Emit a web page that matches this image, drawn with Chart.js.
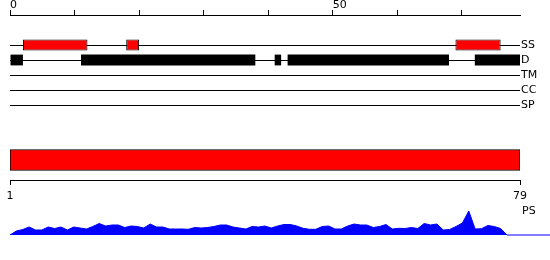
<!DOCTYPE html>
<html><head><meta charset="utf-8">
<script src="https://cdn.jsdelivr.net/npm/chart.js@4"></script>
<style>
html,body{margin:0;padding:0;background:#fff;}
body{width:550px;height:260px;position:relative;overflow:hidden;font-family:"DejaVu Sans";}
.box{position:absolute;left:0;width:550px;}
#ps{position:absolute;left:522px;top:204px;font:11px "DejaVu Sans";color:#000;line-height:normal;}
</style></head><body>
<div class="box" style="top:0;height:115px"><canvas id="c1"></canvas></div>
<div class="box" style="top:140px;height:65px"><canvas id="c2"></canvas></div>
<div class="box" style="top:200px;height:40px"><canvas id="c3"></canvas></div>
<div id="ps">PS</div>
<script>
const tracks = ['SS','D','TM','CC','SP'];
const ssSegments = [[2,12],[18,20],[69,76]];
const dSegments = [[0,2],[11,38],[41,42],[43,68],[72,79]];
const topTicks = [0,10,20,30,40,50,60,70];
const topLabelled = [0,50];
const seqStart = 1, seqEnd = 79;
const psScores = [0,4,5.5,8,5,5,8,6.5,8,5,8,7,6,8.5,11.5,9,10,10,7.5,9,8.5,7,11,8,8,6,6,6,5.7,7.5,7,7.5,8.5,10,10,8,7,6,8.5,8,9,7,9,10.5,10.5,9,6.7,5.7,5.7,8.5,9,6,6,9,11,10,10,7.5,8.5,10.5,6,6.7,6.5,7.5,6.5,11.5,10,11,5,5.5,8.5,12,24,6,6.3,9.5,8.5,6.5,0];

const FONT = {family:'DejaVu Sans', size:11};
const TXT = '#000';

const trackLines = {
  id:'trackLines',
  beforeDatasetsDraw(chart){
    const {ctx, scales:{x,y}} = chart;
    ctx.save(); ctx.strokeStyle='#000'; ctx.lineWidth=1;
    tracks.forEach((t,i)=>{
      const py = Math.round(y.getPixelForValue(i+2))+0.5;
      ctx.beginPath(); ctx.moveTo(x.getPixelForValue(x.min), py); ctx.lineTo(x.getPixelForValue(x.max), py); ctx.stroke();
    });
    ctx.restore();
  }
};
const row = name => tracks.indexOf(name)+2;

new Chart(document.getElementById('c1'), {
  type:'bar',
  data:{datasets:[
    {label:'SS', data:ssSegments.map(s=>({x:s, y:row('SS')})), backgroundColor:'#ff0000', borderColor:'#000', borderWidth:1, borderSkipped:false, maxBarThickness:11},
    {label:'D', data:dSegments.map(s=>({x:s, y:row('D')})), backgroundColor:'#000', borderWidth:0, borderSkipped:false, maxBarThickness:11}
  ]},
  options:{
    indexAxis:'y', grouped:false, responsive:true, maintainAspectRatio:false, animation:false,
    layout:{padding:{left:10,right:0,top:0,bottom:10}},
    plugins:{legend:{display:false}, tooltip:{enabled:false}},
    scales:{
      x:{type:'linear', position:'top', min:0, max:79,
        afterBuildTicks:s=>{s.ticks = topTicks.map(v=>({value:v}));},
        afterFit:s=>{s.height=15;},
        ticks:{align:'start', padding:-2, color:TXT, font:FONT, autoSkip:false, maxRotation:0,
          callback:v=>topLabelled.includes(v)?String(v):''},
        grid:{drawOnChartArea:false, tickLength:5, color:'#000', lineWidth:1},
        border:{color:'#000', width:1}},
      y:{type:'linear', position:'right', reverse:true, min:0, max:6, offset:false,
        afterBuildTicks:s=>{s.ticks = tracks.map((t,i)=>({value:i+2}));},
        afterFit:s=>{s.width=30;},
        ticks:{padding:1, color:TXT, font:FONT, autoSkip:false, callback:v=>tracks[v-2]},
        grid:{display:false, drawTicks:false, offset:false}, border:{display:false}}
    }
  },
  plugins:[trackLines]
});

new Chart(document.getElementById('c2'), {
  type:'bar',
  data:{labels:['sequence'], datasets:[{data:[[seqStart, seqEnd]], backgroundColor:'#ff0000', borderColor:'#000', borderWidth:1, borderSkipped:false, barThickness:21}]},
  options:{
    indexAxis:'y', responsive:true, maintainAspectRatio:false, animation:false,
    layout:{padding:{left:10,right:30,top:0,bottom:0}},
    plugins:{legend:{display:false}, tooltip:{enabled:false}},
    scales:{
      x:{type:'linear', min:seqStart, max:seqEnd,
        afterBuildTicks:s=>{s.ticks=[{value:seqStart},{value:seqEnd}];},
        afterFit:s=>{s.height=25;},
        ticks:{padding:5, color:TXT, font:FONT, autoSkip:false, maxRotation:0},
        grid:{drawOnChartArea:false, tickLength:5, color:'#000'},
        border:{color:'#000', width:1}},
      y:{display:false}
    }
  }
});

const baseline = {
  id:'baseline',
  afterDatasetsDraw(chart){
    const {ctx, scales:{x,y}} = chart;
    const py = y.getPixelForValue(0);
    ctx.save(); ctx.strokeStyle='#0000ff'; ctx.lineWidth=1.2;
    ctx.beginPath(); ctx.moveTo(x.getPixelForValue(x.max), py); ctx.lineTo(chart.width, py); ctx.stroke();
    ctx.restore();
  }
};

new Chart(document.getElementById('c3'), {
  type:'line',
  data:{datasets:[{data:psScores.map((v,i)=>({x:i+1, y:v})), fill:'origin', backgroundColor:'#0000ff', borderColor:'#0000ff', borderWidth:1, pointRadius:0, tension:0}]},
  options:{
    responsive:true, maintainAspectRatio:false, animation:false,
    layout:{padding:{left:10,right:43,top:10,bottom:5}},
    plugins:{legend:{display:false}, tooltip:{enabled:false}},
    scales:{
      x:{type:'linear', min:seqStart, max:seqEnd, display:false},
      y:{min:0, max:25, display:false}
    }
  },
  plugins:[baseline]
});
</script>
</body></html>
